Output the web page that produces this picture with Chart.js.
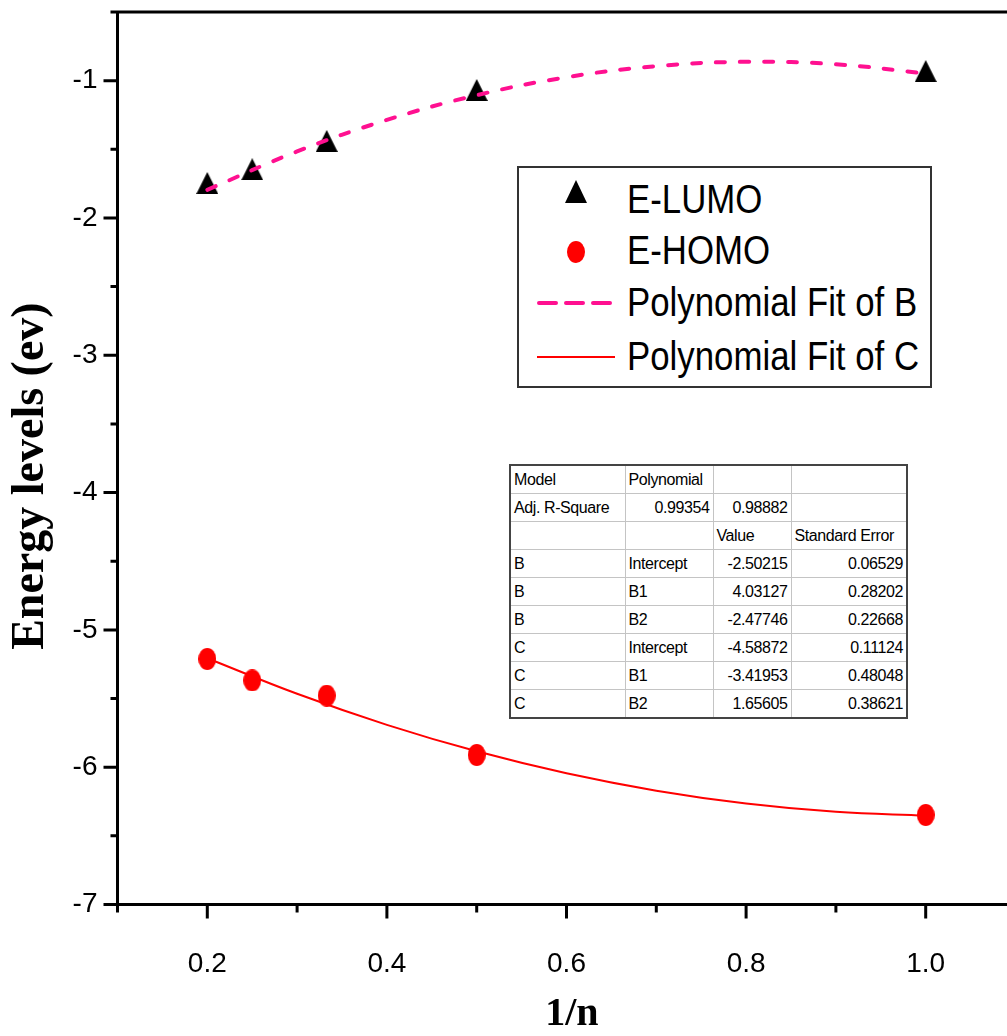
<!DOCTYPE html>
<html>
<head>
<meta charset="utf-8">
<title>Energy levels vs 1/n</title>
<script src="https://cdn.jsdelivr.net/npm/chart.js@4.4.1/dist/chart.umd.min.js"></script>
<style>
  html, body { margin: 0; padding: 0; background: #fff; overflow: hidden; }
  #wrap { position: relative; width: 1007px; height: 1036px; overflow: hidden; }
  #plot { display: block; width: 1018px; height: 1036px; }
  #legend {
    position: absolute; left: 517px; top: 166px; width: 411px; height: 218px;
    border: 2px solid #333; background: #fff;
  }
  #legend .row { position: absolute; left: 0; width: 100%; height: 52px; }
  #legend .lbl {
    position: absolute; left: 108px; top: 0; height: 52px; line-height: 52px;
    font-family: "Liberation Sans", Arial, sans-serif; font-size: 40px; color: #000;
    white-space: nowrap; transform: scaleX(0.87); transform-origin: left center;
  }
  #legend svg { position: absolute; left: 0; top: 0; }
  #stats {
    position: absolute; left: 509px; top: 464px; border-collapse: collapse;
    border: 2px solid #444; background: #fff;
    font-family: "Liberation Sans", Arial, sans-serif; font-size: 16px; color: #000;
    letter-spacing: -0.4px;
  }
  #stats td {
    border: 1px solid #c4c4c4; height: 27px; padding: 0 3px; white-space: nowrap;
    vertical-align: middle; line-height: 16px;
  }
  #stats td.num { text-align: right; }
</style>
</head>
<body>
<div id="wrap">
  <!-- the plot frame is wider than the page: its right side falls just past the edge -->
  <canvas id="plot" width="1018" height="1036"></canvas>

  <div id="legend">
    <div class="row" style="top:5px">
      <svg width="120" height="52"><polygon points="57,7 68,30 46,30" fill="#000"/></svg>
      <div class="lbl">E-LUMO</div>
    </div>
    <div class="row" style="top:56px">
      <svg width="120" height="52"><ellipse cx="57" cy="28" rx="9" ry="11" fill="#ff0000"/></svg>
      <div class="lbl">E-HOMO</div>
    </div>
    <div class="row" style="top:108px">
      <svg width="120" height="52"><line x1="20" y1="27" x2="96" y2="27" stroke="#ff1090" stroke-width="4" stroke-dasharray="17 10" stroke-linecap="round"/></svg>
      <div class="lbl">Polynomial Fit of B</div>
    </div>
    <div class="row" style="top:162px">
      <svg width="120" height="52"><line x1="18" y1="27" x2="96" y2="27" stroke="#ff0000" stroke-width="2"/></svg>
      <div class="lbl">Polynomial Fit of C</div>
    </div>
  </div>

  <table id="stats">
    <colgroup><col style="width:115px"><col style="width:88px"><col style="width:78px"><col style="width:116px"></colgroup>
    <tbody id="statsBody"></tbody>
  </table>
</div>

<script>
// ---- data -------------------------------------------------------------
// 1/n for n = 5, 4, 3, 2, 1
const invN = [0.2, 0.25, 0.333, 0.5, 1.0];
// LUMO energies (eV)
const eLumo = [-1.745, -1.645, -1.439, -1.068, -0.93];
// HOMO energies (eV)
const eHomo = [-5.212, -5.368, -5.479, -5.911, -6.348];

// quadratic fit curves, sampled along 1/n
const fitX = [0.2, 0.3, 0.4, 0.5, 0.6, 0.7, 0.8, 0.9, 1.0];
const fitB = [-1.795, -1.5157, -1.2860, -1.1059, -0.9753, -0.8942, -0.8627, -0.8808, -0.9483];
const fitC = [-5.2064, -5.4655, -5.6916, -5.8845, -6.0443, -6.1709, -6.2645, -6.3249, -6.3522];

// axis ticks
const xMajorTicks = [0.2, 0.4, 0.6, 0.8, 1.0];
const xMinorTicks = [0.1, 0.3, 0.5, 0.7, 0.9];
const yMajorTicks = [-7, -6, -5, -4, -3, -2, -1];
const yMinorTicks = [-6.5, -5.5, -4.5, -3.5, -2.5, -1.5, -0.5];

// axis titles
const xTitle = '1/n';
const yTitle = 'Energy levels (ev)';

// fit parameter table
const statsHeader = [
  ["Model", "Polynomial", "", ""],
  ["Adj. R-Square", "0.99354", "0.98882", ""],
  ["", "", "Value", "Standard Error"]
];
const paramSeries = ["B", "B", "B", "C", "C", "C"];
const paramNames  = ["Intercept", "B1", "B2", "Intercept", "B1", "B2"];
const paramValues = ["-2.50215", "4.03127", "-2.47746", "-4.58872", "-3.41953", "1.65605"];
const paramErrors = ["0.06529", "0.28202", "0.22668", "0.11124", "0.48048", "0.38621"];

// ---- table ------------------------------------------------------------
(function buildTable() {
  const body = document.getElementById('statsBody');
  const isNum = s => /^-?\d/.test(s);
  const rows = statsHeader.concat(paramSeries.map((s, i) => [s, paramNames[i], paramValues[i], paramErrors[i]]));
  rows.forEach(r => {
    const tr = document.createElement('tr');
    r.forEach(txt => {
      const td = document.createElement('td');
      td.textContent = txt;
      if (isNum(txt)) td.className = 'num';
      tr.appendChild(td);
    });
    body.appendChild(tr);
  });
})();

// ---- marker sprites -----------------------------------------------------
function triangleSprite(w, h, color) {
  const c = document.createElement('canvas');
  c.width = w; c.height = h;
  const g = c.getContext('2d');
  g.fillStyle = color;
  g.beginPath(); g.moveTo(w / 2, 0); g.lineTo(w, h); g.lineTo(0, h); g.closePath(); g.fill();
  return c;
}
function ellipseSprite(w, h, color) {
  const c = document.createElement('canvas');
  c.width = w; c.height = h;
  const g = c.getContext('2d');
  g.fillStyle = color;
  g.beginPath(); g.ellipse(w / 2, h / 2, w / 2, h / 2, 0, 0, Math.PI * 2); g.fill();
  return c;
}
const triMark = triangleSprite(22, 22, '#000');
const dotMark = ellipseSprite(18, 22, '#ff0000');

// ---- frame, tick marks and axis titles ----------------------------------
const frameTicks = {
  id: 'frameTicks',
  afterDraw(chart) {
    const { ctx, chartArea: a, scales: { x, y } } = chart;
    ctx.save();
    ctx.strokeStyle = '#000';
    ctx.lineWidth = 3;
    ctx.beginPath();
    ctx.moveTo(a.left, a.top); ctx.lineTo(a.right, a.top);
    ctx.moveTo(a.right, a.top); ctx.lineTo(a.right, a.bottom);
    yMajorTicks.forEach(v => { const p = y.getPixelForValue(v); ctx.moveTo(a.left - 14, p); ctx.lineTo(a.left, p); });
    yMinorTicks.forEach(v => { const p = y.getPixelForValue(v); ctx.moveTo(a.left - 7, p); ctx.lineTo(a.left, p); });
    xMajorTicks.forEach(v => { const p = x.getPixelForValue(v); ctx.moveTo(p, a.bottom); ctx.lineTo(p, a.bottom + 14); });
    xMinorTicks.forEach(v => { const p = x.getPixelForValue(v); ctx.moveTo(p, a.bottom); ctx.lineTo(p, a.bottom + 8); });
    ctx.stroke();

    // axis titles, bold serif
    ctx.fillStyle = '#000';
    ctx.textAlign = 'center';
    ctx.textBaseline = 'middle';
    ctx.font = 'bold 40px "Liberation Serif", "Times New Roman", serif';
    ctx.fillText(xTitle, x.getPixelForValue(0.606), 1015);
    ctx.translate(31, y.getPixelForValue(-3.88));
    ctx.rotate(-Math.PI / 2);
    ctx.font = 'bold 46px "Liberation Serif", "Times New Roman", serif';
    ctx.fillText(yTitle, 0, 0);
    ctx.restore();
  }
};

// ---- chart --------------------------------------------------------------
Chart.defaults.font.family = '"Liberation Sans", Arial, sans-serif';
Chart.defaults.color = '#000';

const toPts = (xs, ys) => xs.map((v, i) => ({ x: v, y: ys[i] }));

new Chart(document.getElementById('plot'), {
  type: 'scatter',
  data: {
    datasets: [
      {
        label: 'Polynomial Fit of B',
        data: toPts(fitX, fitB),
        showLine: true,
        borderColor: '#ff1090',
        borderWidth: 4,
        borderDash: [9, 15],
        borderCapStyle: 'round',
        tension: 0.4,
        pointRadius: 0,
        order: 0
      },
      {
        label: 'Polynomial Fit of C',
        data: toPts(fitX, fitC),
        showLine: true,
        borderColor: '#ff0000',
        borderWidth: 2,
        tension: 0.4,
        pointRadius: 0,
        order: 0
      },
      {
        label: 'E-LUMO',
        data: toPts(invN, eLumo),
        pointStyle: triMark,
        pointRadius: 11,
        showLine: false,
        order: 1
      },
      {
        label: 'E-HOMO',
        data: toPts(invN, eHomo),
        pointStyle: dotMark,
        pointRadius: 11,
        showLine: false,
        order: 1
      }
    ]
  },
  options: {
    responsive: false,
    maintainAspectRatio: false,
    devicePixelRatio: 1,
    animation: false,
    events: [],
    layout: { autoPadding: false, padding: { left: 0, top: 12, bottom: 0, right: 2.5 } },
    plugins: { legend: { display: false }, tooltip: { enabled: false } },
    scales: {
      x: {
        type: 'linear',
        min: 0.1,
        max: 1.1,
        afterBuildTicks: s => { s.ticks = xMajorTicks.map(v => ({ value: v })); },
        afterFit: s => { s.height = 131.5; s.paddingLeft = 0; s.paddingRight = 0; },
        grid: { display: false, drawTicks: false },
        border: { display: true, color: '#000', width: 3 },
        ticks: {
          padding: 43,
          font: { size: 28 },
          callback: v => Number(v).toFixed(1),
          maxRotation: 0,
          autoSkip: false
        },
        title: { display: false, text: xTitle }
      },
      y: {
        type: 'linear',
        min: -7,
        max: -0.5,
        afterBuildTicks: s => { s.ticks = yMajorTicks.map(v => ({ value: v })); },
        afterFit: s => { s.width = 117.5; s.paddingTop = 0; s.paddingBottom = 0; },
        grid: { display: false, drawTicks: false },
        border: { display: true, color: '#000', width: 3 },
        ticks: {
          padding: 20,
          font: { size: 28 },
          callback: v => String(v),
          autoSkip: false
        },
        title: { display: false, text: yTitle }
      }
    }
  },
  plugins: [frameTicks]
});
</script>
</body>
</html>
